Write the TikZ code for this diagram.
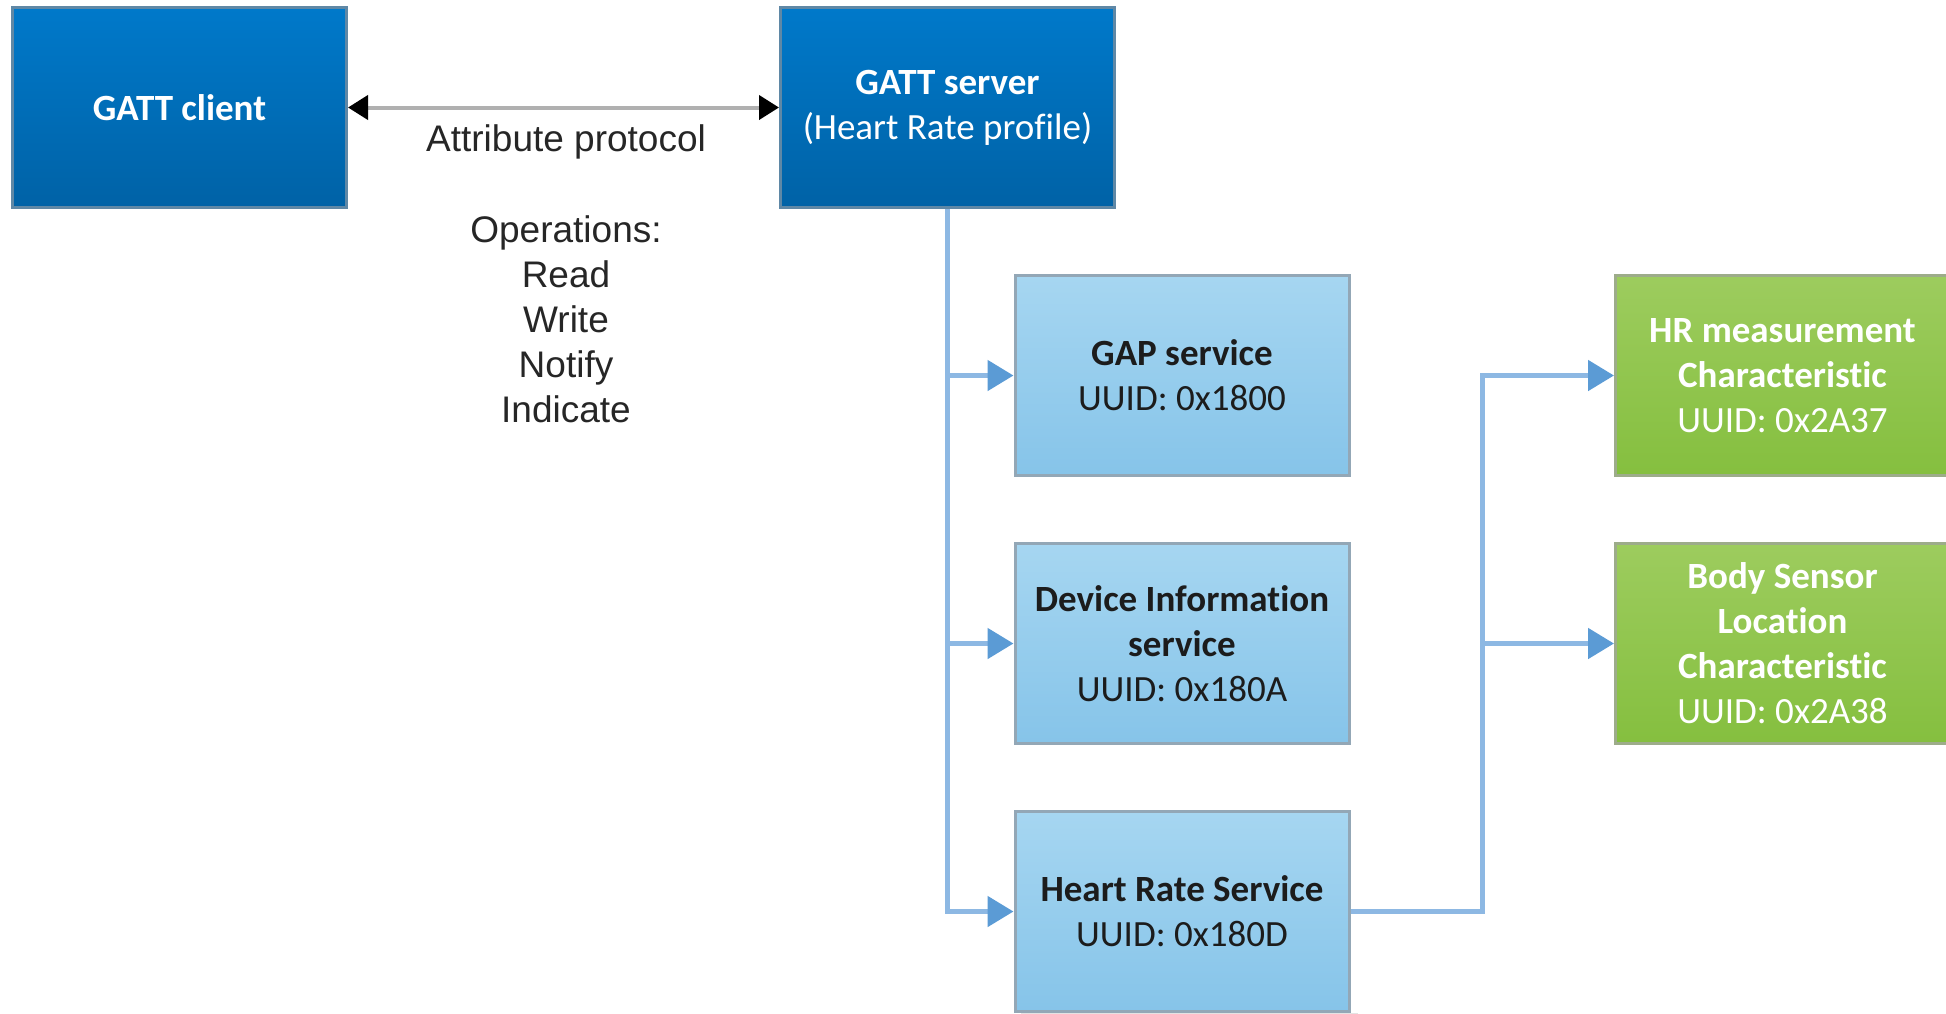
\documentclass[tikz,border=0pt]{standalone}
\usepackage{fontspec}
\setmainfont{Carlito}[Ligatures=NoCommon]
\newfontfamily\arialf{Liberation Sans}
\usetikzlibrary{arrows.meta,calc,backgrounds}
\definecolor{darktop}{HTML}{0079CA}
\definecolor{darkbot}{HTML}{0062A6}
\definecolor{darkborder}{HTML}{5F88A6}
\definecolor{lighttop}{HTML}{A6D6F1}
\definecolor{lightbot}{HTML}{86C4E9}
\definecolor{lightborder}{HTML}{93A7B6}
\definecolor{greentop}{HTML}{9DCC5E}
\definecolor{greenbot}{HTML}{85BF3F}
\definecolor{greenborder}{HTML}{9DAC8A}
\definecolor{linkblue}{HTML}{8DB8E3}
\definecolor{tipblue}{HTML}{5B9BD5}
\definecolor{shadowgray}{HTML}{E3E3E3}
\definecolor{protoline}{HTML}{B0B0B0}
\definecolor{darktext}{HTML}{1C1C1C}
\begin{document}
\begin{tikzpicture}[x=1pt,y=-1pt,
  box/.style={rectangle, minimum width=334pt, minimum height=200pt, line width=3pt,
    align=center, inner sep=0pt, font=\fontsize{37}{45}\selectfont},
  darkbox/.style={box, draw=darkborder, top color=darktop, bottom color=darkbot, text=white},
  lightbox/.style={box, draw=lightborder, top color=lighttop, bottom color=lightbot, text=darktext},
  greenbox/.style={box, draw=greenborder, top color=greentop, bottom color=greenbot, text=white},
  conn/.style={draw=linkblue, line width=5pt, -{Triangle[length=26pt,width=30pt,color=tipblue]}},
  plainline/.style={draw=linkblue, line width=5pt},
  proto/.style={draw=protoline, line width=4pt, {Triangle[length=20pt,width=24pt,color=black]}-{Triangle[length=20pt,width=24pt,color=black]}},
  freetext/.style={font=\arialf\fontsize{37}{45}\selectfont, text=black!85, align=center, inner sep=0pt}
]
\useasboundingbox[fill=white] (0,0) rectangle (1946,1013);

\node[darkbox] (cli) at (179.5,107.5) {\bfseries GATT client};
\node[darkbox] (srv) at (947.5,107.5) {{\bfseries GATT server}\\(Heart Rate profile)};
\node[lightbox] (gap) at (1182,375.5) {{\bfseries GAP service}\\UUID: 0x1800};
\node[lightbox] (dis) at (1182,643.5) {{\bfseries Device Information}\\{\bfseries service}\\UUID: 0x180A};
\node[lightbox] (hrs) at (1182,911.5) {{\bfseries Heart Rate Service}\\UUID: 0x180D};
\node[greenbox] (hrm) at (1782.5,375.5) {{\bfseries HR measurement}\\{\bfseries Characteristic}\\UUID: 0x2A37};
\node[greenbox] (bsl) at (1782.5,643.5) {{\bfseries Body Sensor}\\{\bfseries Location}\\{\bfseries Characteristic}\\UUID: 0x2A38};

\begin{pgfonlayer}{background}
  \foreach \n in {cli,srv,gap,dis,hrs,hrm,bsl}{
    \fill[shadowgray] ($(\n.south west)+(7,0)$) rectangle ($(\n.south east)+(7,7)$);
    \fill[shadowgray] ($(\n.north east)+(0,7)$) rectangle ($(\n.south east)+(7,7)$);
  }
\end{pgfonlayer}

\node[freetext] (proto) at (566,142) {Attribute protocol};
\node[freetext] (ops) at (566,319) {Operations:\\Read\\Write\\Notify\\Indicate};

\draw[proto] (cli.east) -- (srv.west);

\draw[plainline] (srv.south) -- (srv.south |- gap.west);
\draw[conn] (srv.south |- gap.west) -- (gap.west);
\draw[conn] (srv.south |- dis.west) -- (dis.west);
\draw[conn] (srv.south |- gap.west) -- (srv.south |- hrs.west) -- (hrs.west);

\coordinate (bus) at ($(hrs.east)!0.5!(hrm.west)$);
\draw[conn] (hrs.east) -- (hrs.east -| bus) -- (bus |- hrm.west) -- (hrm.west);
\draw[conn] (bus |- bsl.west) -- (bsl.west);
\end{tikzpicture}
\end{document}
